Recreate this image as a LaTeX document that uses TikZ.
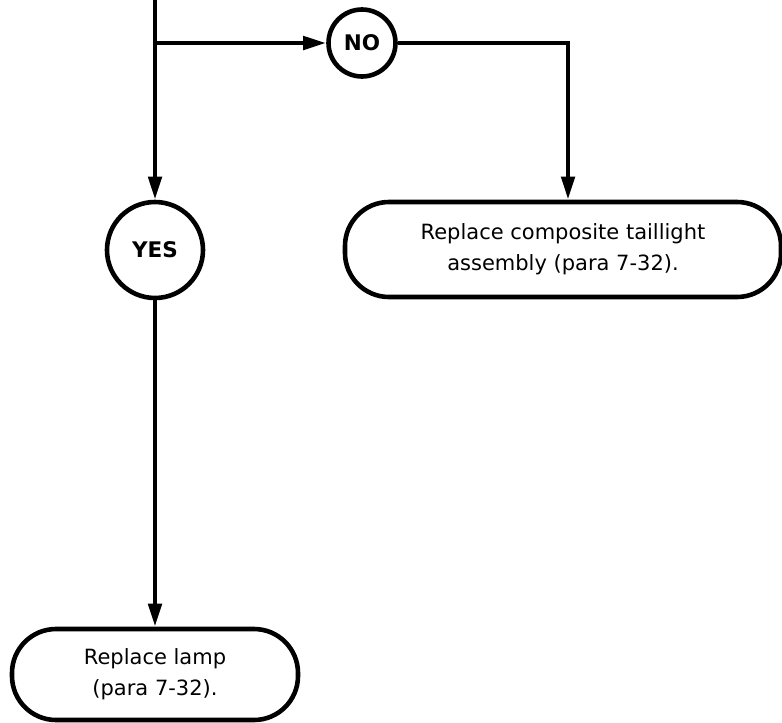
\documentclass[tikz,border=0pt]{standalone}
\usepackage{fontspec}
\setmainfont{DejaVu Sans}
\usetikzlibrary{arrows.meta}
\begin{document}
\begin{tikzpicture}[x=1pt,y=-1pt,
  conn/.style={line width=4.6pt,-{Triangle[length=23pt,width=13pt]}},
  decision/.style={circle,draw,line width=4.6pt,inner sep=0pt,font=\fontsize{21.5}{25}\selectfont\bfseries},
  terminal/.style={draw,line width=4.6pt,rounded corners=44pt,inner sep=0pt,align=center,
    font=\fontsize{21}{31}\selectfont}]
\useasboundingbox (0,0) rectangle (782,723);
\coordinate (top) at (155,0);
\coordinate (junc) at (155,43);
\node[decision,minimum size=67pt] (no) at (362,43) {NO};
\coordinate (corner) at (568,43);
\node[decision,minimum size=96pt] (yes) at (155,250) {YES};
\node[terminal,minimum width=436pt,minimum height=95pt] (comp) at (563,249.5) {Replace composite taillight\\assembly (para 7-32).};
\node[terminal,minimum width=286pt,minimum height=91pt] (lamp) at (155,674.5) {Replace lamp\\(para 7-32).};
\draw[conn] (top) -- (yes.north);
\draw[conn] (junc) -- (no.west);
\draw[conn] (no.east) -- (corner) -- (corner |- comp.north);
\draw[conn] (yes.south) -- (lamp.north);
\end{tikzpicture}
\end{document}
